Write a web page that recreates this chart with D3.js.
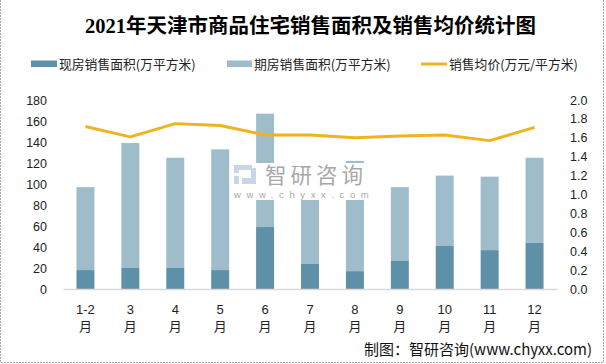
<!DOCTYPE html>
<html><head><meta charset="utf-8">
<script src="https://cdn.jsdelivr.net/npm/d3@7/dist/d3.min.js"></script>
<style>body{margin:0;background:#fff}svg{display:block}</style>
</head><body>
<svg id="c" width="606" height="364"></svg>
<script>
const categories = ["1-2","3","4","5","6","7","8","9","10","11","12"];
const xianfang = [18,20,20,18,59,24,17,27,41,37,44];
const qifang   = [79,119,105,115,108,81,105,70,67,70,81];
const price    = [1.72,1.61,1.75,1.73,1.63,1.63,1.60,1.62,1.63,1.57,1.71];
const leftTicks = [0,20,40,60,80,100,120,140,160,180];
const rightTicks = [0,0.2,0.4,0.6,0.8,1.0,1.2,1.4,1.6,1.8,2.0];
const seriesNames = ["现房销售面积(万平方米)","期房销售面积(万平方米)","销售均价(万元/平方米)"];
const title = "2021年天津市商品住宅销售面积及销售均价统计图";
const source = "制图：智研咨询(www.chyxx.com)";

const C_DARK = "#5E90A7", C_LIGHT = "#9EBCCA", C_LINE = "#F0B21E";
const svg = d3.select("#c");
const sans = "'Noto Sans CJK SC','Liberation Sans',sans-serif";
const num = "'Liberation Sans',sans-serif";

// border
svg.append("path").attr("d","M0.5,0 V362.5 H603.5 V0").attr("fill","none")
  .attr("stroke","#A6A6A6").attr("stroke-width",1).attr("stroke-dasharray","2,1");

const x = d3.scaleBand().domain(categories).range([63,557]).paddingInner(0.6).paddingOuter(0.3);
const yL = d3.scaleLinear().domain([0,180]).range([289,100]);
const yR = d3.scaleLinear().domain([0,2]).range([289,100]);

// title
svg.append("text").attr("x",310.5).attr("y",33).attr("text-anchor","middle")
  .attr("font-family","'Liberation Serif','Noto Sans CJK SC',serif").attr("font-weight","bold")
  .attr("font-size",20.5).attr("fill","#000").text(title);

// legend
const lg = svg.append("g").attr("font-family",sans).attr("font-size",12.8).attr("fill","#222");
lg.append("rect").attr("x",31).attr("y",60.5).attr("width",26).attr("height",6.5).attr("fill",C_DARK);
lg.append("text").attr("x",59).attr("y",68.5).text(seriesNames[0]);
lg.append("rect").attr("x",227).attr("y",60.5).attr("width",25).attr("height",6.5).attr("fill",C_LIGHT);
lg.append("text").attr("x",254).attr("y",68.5).text(seriesNames[1]);
lg.append("line").attr("x1",421).attr("x2",447).attr("y1",64).attr("y2",64).attr("stroke",C_LINE).attr("stroke-width",3);
lg.append("text").attr("x",449).attr("y",68.5).text(seriesNames[2]);

// bars
const data = categories.map((c,i)=>({c, a:xianfang[i], b:qifang[i], p:price[i]}));
svg.append("g").selectAll("rect").data(data).join("rect")
  .attr("x",d=>x(d.c)).attr("width",x.bandwidth())
  .attr("y",d=>yL(d.a+d.b)).attr("height",d=>yL(d.a)-yL(d.a+d.b)).attr("fill",C_LIGHT);
svg.append("g").selectAll("rect").data(data).join("rect")
  .attr("x",d=>x(d.c)).attr("width",x.bandwidth())
  .attr("y",d=>yL(d.a)).attr("height",d=>yL(0)-yL(d.a)).attr("fill",C_DARK);

// axis line
const xAxis = d3.axisBottom(x).tickSize(0).tickFormat("");
svg.append("g").attr("transform","translate(0,289)").call(xAxis)
  .call(g=>g.select(".domain").attr("stroke","#D9D9D9").attr("stroke-width",1.5));

// x labels
const xl = svg.append("g").attr("font-family",num).attr("font-size",13).attr("fill","#222").attr("text-anchor","middle");
xl.selectAll("text.c").data(categories).join("text").attr("class","c")
  .attr("x",d=>x(d)+x.bandwidth()/2).attr("y",314).text(d=>d);
xl.selectAll("text.m").data(categories).join("text").attr("class","m")
  .attr("font-family",sans)
  .attr("x",d=>x(d)+x.bandwidth()/2).attr("y",331).text("月");

// left axis
const la = d3.axisLeft(yL).tickValues(leftTicks).tickSize(0).tickPadding(0).tickFormat(d3.format("d"));
svg.append("g").attr("transform","translate(47,0)").call(la)
  .call(g=>g.select(".domain").remove())
  .call(g=>g.selectAll("text").attr("font-family",num).attr("font-size",12.5).attr("fill","#222"));
// right axis
const ra = d3.axisRight(yR).tickValues(rightTicks).tickSize(0).tickPadding(0).tickFormat(d3.format(".1f"));
svg.append("g").attr("transform","translate(570,0)").call(ra)
  .call(g=>g.select(".domain").remove())
  .call(g=>g.selectAll("text").attr("font-family",num).attr("font-size",12.5).attr("fill","#222"));

// price line
const line = d3.line().x(d=>x(d.c)+x.bandwidth()/2).y(d=>yR(d.p));
svg.append("path").datum(data).attr("d",line).attr("fill","none")
  .attr("stroke",C_LINE).attr("stroke-width",3).attr("stroke-linejoin","round");

// watermark
const wm = svg.append("g");
wm.append("rect").attr("x",233).attr("y",163).attr("width",140).attr("height",37).attr("fill","#fff");
wm.append("path").attr("d","M234,165 h18 v5 h-13 v3 h-5 z M234,176 h5 v8 h-5 z M242,178 h9 v-10 h5 v16 h-14 z")
  .attr("fill","#C9D6E6");
wm.append("text").attr("x",265).attr("y",182.5).attr("font-family",sans).attr("font-size",21.5)
  .attr("fill","#A8A8A8").attr("letter-spacing",4).text("智研咨询");
wm.append("text").attr("x",234).attr("y",198).attr("font-family",num).attr("font-size",9.5)
  .attr("fill","#A8A8A8").attr("letter-spacing",5.6).text("www.chyxx.com");

// source
svg.append("text").attr("x",592).attr("y",355).attr("text-anchor","end")
  .attr("font-family",sans).attr("font-size",15).attr("fill","#111").text(source);
</script>
</body></html>
